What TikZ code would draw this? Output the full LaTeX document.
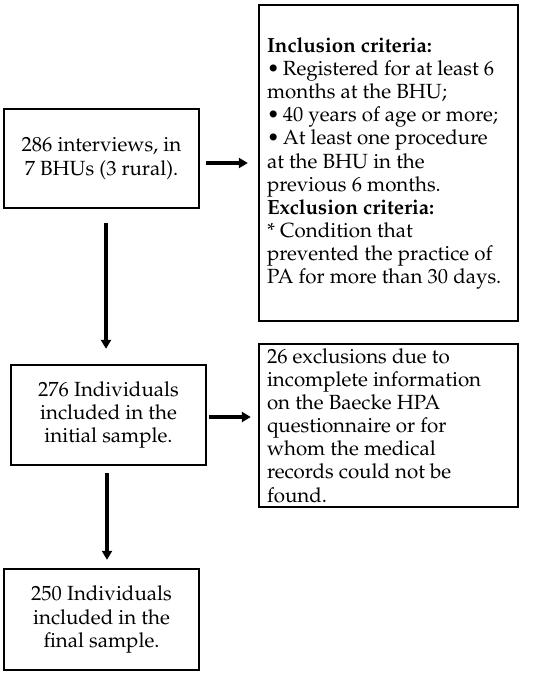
\documentclass[tikz,border=0pt]{standalone}
\usepackage[T1]{fontenc}
\renewcommand\rmdefault{ppl}
\usetikzlibrary{arrows.meta,calc}
\begin{document}
\begin{tikzpicture}[x=1pt,y=-1pt,
  box/.style={draw,line width=2.4pt,inner sep=0pt},
  txt/.style={font=\fontsize{20.5}{23.1}\selectfont,inner sep=0pt},
  arr/.style={line width=3.1pt,-{Triangle[length=9pt,width=10pt]}}]
\useasboundingbox (0,0) rectangle (550,674);
\fill[white] (0,0) rectangle (550,674);
\node[box,minimum width=195pt,minimum height=99pt] (b1) at (101.5,158.5) {};
\node[txt,align=center] (t1) at (b1.center) {286 interviews, in\\7 BHUs (3 rural).};
\node[box,minimum width=259pt,minimum height=316pt] (crit) at (388.5,163) {};
\node[txt,align=left,anchor=west] (tc) at ($(crit.west)+(9,0.5)$) {\textbf{Inclusion criteria:}\\
\textbullet\,Registered for at least 6\\
months at the BHU;\\
\textbullet\,40 years of age or more;\\
\textbullet\,At least one procedure\\
at the BHU in the\\
previous 6 months.\\
\textbf{Exclusion criteria:}\\
* Condition that\\
prevented the practice of\\
PA for more than 30 days.};
\node[box,minimum width=195pt,minimum height=100pt] (b2) at (108.5,415) {};
\node[txt,align=center] (t2) at (b2.center) {276 Individuals\\included in the\\initial sample.};
\node[box,minimum width=259pt,minimum height=163pt] (excl) at (388.5,425.5) {};
\node[txt,align=left,anchor=west] (te) at ($(excl.west)+(9,0)$) {26 exclusions due to\\
incomplete information\\
on the Baecke HPA\\
questionnaire or for\\
whom the medical\\
records could not be\\
found.};
\node[box,minimum width=195pt,minimum height=101pt] (b3) at (101.5,619.5) {};
\node[txt,align=center] (t3) at (b3.center) {250 Individuals\\included in the\\final sample.};
\coordinate (a1s) at ($(b1.east |- crit.west)+(6,0)$);
\draw[arr] (a1s) -- (a1s -| {$(crit.west)+(-10,0)$});
\coordinate (v1s) at ($(b1.south)+(4.5,14)$);
\draw[arr] (v1s) -- (v1s |- {$(b2.north)+(0,-15)$});
\coordinate (a2s) at ($(b2.east)+(2,2)$);
\draw[arr] (a2s) -- (a2s -| {$(excl.west)+(-7,0)$});
\coordinate (v2s) at ($(b2.south)+(-1.5,7)$);
\draw[arr] (v2s) -- (v2s |- {$(b3.north)+(0,-8)$});
\end{tikzpicture}
\end{document}
